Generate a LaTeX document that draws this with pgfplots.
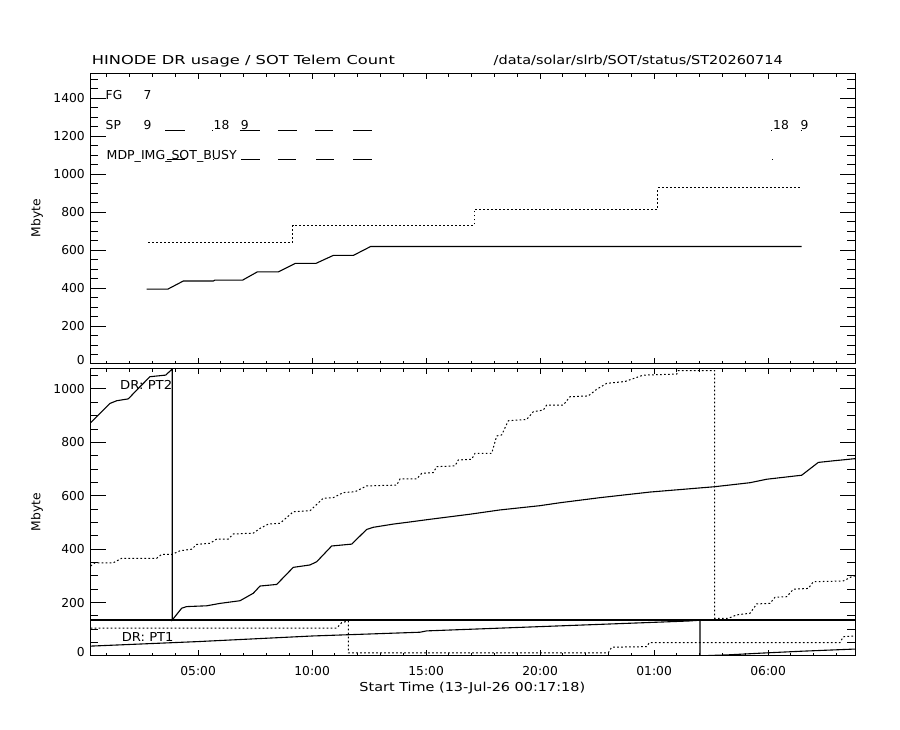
\documentclass[border=0pt]{standalone}
\usepackage{pgfplots}
\pgfplotsset{compat=1.18}
\usepackage{pgfplotstable}
\usepackage{graphicx}
\usepackage{fontspec}
\setmainfont{DejaVu Sans}
\newcommand{\fs}{\fontsize{12.3}{14}\selectfont}

% hours since 13-Jul-26 00:00
\pgfplotstableread{
x y
2.744 394
3.666 394
4.350 437
5.666 437
5.740 442
6.955 442
7.595 485
8.516 485
9.262 530
10.170 530
10.930 572
11.810 572
12.570 619
31.470 619
}\topsolid

\pgfplotstableread{
x y
2.814 641
9.148 641
9.148 731
17.113 731
17.113 815
25.156 815
25.156 927
31.440 927
}\topdot

\pgfplotstableread{
x y
3.547 1229
4.424 1229
nan nan
5.600 1229
5.660 1229
nan nan
6.836 1229
7.714 1229
nan nan
8.503 1229
9.336 1229
nan nan
10.126 1229
10.915 1229
nan nan
11.793 1229
12.626 1229
nan nan
30.130 1229
30.190 1229
nan nan
31.420 1229
31.480 1229
}\spseg

\pgfplotstableread{
x y
3.620 1078
4.424 1078
nan nan
5.640 1078
5.700 1078
nan nan
6.890 1078
7.714 1078
nan nan
8.503 1078
9.310 1078
nan nan
10.170 1078
10.940 1078
nan nan
11.793 1078
12.610 1078
nan nan
30.170 1078
30.230 1078
}\mdpseg

\pgfplotstableread{
x y
0.288 134.8
33.810 134.8
}\divider

\pgfplotstableread{
x y
0.288 874
0.696 909
1.135 946
1.429 956
1.937 963
2.376 1002
2.889 1046
3.578 1052
3.867 1075
3.867 135
4.279 179
4.499 185
5.376 188
5.959 197
6.837 207
7.420 235
7.714 262
8.446 268
9.174 332
9.907 341
10.200 353
10.858 412
11.735 419
12.393 474
12.683 482
13.560 494
14.292 502
15.170 512
16.925 531
18.240 547
19.995 563
20.872 574
22.626 593
24.819 614
27.656 634
29.205 649
29.937 662
31.472 677
32.200 725
32.858 731
33.810 739
}\ptwosolid

\pgfplotstableread{
x y
0.288 337
0.477 349
1.279 349
1.648 366
3.183 366
3.402 381
3.867 381
4.205 394
4.718 400
4.937 418
5.521 422
5.814 438
6.323 438
6.543 457
7.420 460
7.714 478
8.078 494
8.591 497
9.174 540
9.907 544
10.490 591
10.929 593
11.367 612
11.880 615
12.393 637
13.709 640
13.854 663
14.586 663
14.806 684
15.315 687
15.463 709
16.266 712
16.411 734
16.999 737
17.144 759
17.876 759
18.095 824
18.315 828
18.604 881
19.411 886
19.701 915
20.139 921
20.288 940
21.017 940
21.310 971
22.113 974
22.482 999
22.920 1021
23.723 1028
24.525 1052
25.990 1056
26.060 1069
27.656 1069
27.656 141
28.253 141
28.622 154
29.205 160
29.499 195
30.082 197
30.302 220
30.815 222
31.104 250
31.762 253
31.981 278
33.297 281
33.665 297
33.810 300
}\ptwodot

\pgfplotstableread{
x y
0.288 37
5.007 54
10.025 75
14.731 89
15.025 94
19.995 110
24.963 126
26.499 131
27.012 134
27.012 0
27.450 2
28.183 4
30.000 12
31.500 18
33.810 26
}\ponesolid

\pgfplotstableread{
x y
0.288 104
11.078 104
11.297 125
11.586 131
11.586 12
22.990 12
23.139 33
24.674 35
24.788 50
33.152 50
33.297 72
33.810 75
}\ponedot

\pgfplotsset{
  panel/.style={scale only axis, width=764.3pt, xmin=0.2883, xmax=33.81,
    axis line style={line width=1pt}, tick style={line width=1pt, black},
    tick align=inside, tick label style={font=\fs}},
  xpart/.style={xtick={5,10,15,20,25,30}, minor xtick={1,2,...,33},
    major tick length=6pt, minor tick length=3.3pt, ytick=\empty},
  ypart/.style={xtick=\empty, major tick length=15pt, minor tick length=7.7pt,
    yticklabel style={inner sep=0pt, xshift=-5.7pt},
    extra y ticks={0}, extra y tick labels={0},
    extra y tick style={yticklabel style={yshift=3.5pt}}},
  solidl/.style={line width=1.1pt, black},
  dotl/.style={line width=1pt, black, dash pattern=on 1.7pt off 2.3pt},
}

\begin{document}
\begin{tikzpicture}[font=\fs]
\path[use as bounding box] (0pt,0pt) rectangle (900pt,730pt);

% ---------- top panel ----------
\begin{axis}[panel, xpart, at={(90.7pt,366pt)}, height=290.7pt,
  ymin=0, ymax=1531, xticklabels={\mbox{},\mbox{},\mbox{},\mbox{},\mbox{},\mbox{}},
  unbounded coords=jump]
\addplot[solidl] table {\topsolid};
\addplot[dotl] table {\topdot};
\addplot[solidl] table {\spseg};
\addplot[solidl] table {\mdpseg};
\end{axis}
\begin{axis}[panel, ypart, at={(90.7pt,366pt)}, height=290.7pt,
  ymin=0, ymax=1531, ytick={200,400,...,1400}, minor ytick={50,100,...,1500},
  yticklabels={200,400,600,800,1000,1200,1400}]
\end{axis}

% ---------- bottom panel ----------
\begin{axis}[panel, xpart, at={(90.7pt,74pt)}, height=287.7pt,
  ymin=0, ymax=1077.5,
  xticklabels={05:00,10:00,15:00,20:00,01:00,06:00},
  xticklabel style={inner sep=0pt, yshift=-10.5pt}]
\addplot[solidl] table {\divider};
\addplot[solidl] table {\ptwosolid};
\addplot[dotl] table {\ptwodot};
\addplot[solidl] table {\ponesolid};
\addplot[dotl] table {\ponedot};
\end{axis}
\begin{axis}[panel, ypart, at={(90.7pt,74pt)}, height=287.7pt,
  ymin=0, ymax=1077.5, ytick={200,400,...,1000}, minor ytick={50,100,...,1050},
  yticklabels={200,400,600,800,1000}]
\end{axis}

% ---------- texts ----------
\tikzset{lab/.style={inner sep=0pt, anchor=base west}}
\node[lab] at (91.7pt,665pt) {\resizebox{303pt}{\height}{HINODE DR usage / SOT Telem Count}};
\node[lab] at (493.5pt,665pt) {\resizebox{289pt}{\height}{/data/solar/slrb/SOT/status/ST20260714}};
\node[lab] at (105.5pt,630pt) {FG};
\node[lab] at (143.5pt,630pt) {7};
\node[lab] at (105.5pt,600pt) {SP};
\node[lab] at (143.5pt,600pt) {9};
\node[lab] at (213.5pt,600pt) {18};
\node[lab] at (240.7pt,600pt) {9};
\node[lab] at (773pt,600pt) {18};
\node[lab] at (800.5pt,600pt) {9};
\node[lab] at (106.5pt,570pt) {\resizebox{130pt}{\height}{MDP\_IMG\_SOT\_BUSY}};
\node[lab] at (120pt,340pt) {\resizebox{52pt}{\height}{DR:\ PT2}};
\node[lab] at (121.7pt,88.3pt) {\resizebox{51.6pt}{\height}{DR:\ PT1}};
\node[inner sep=0pt, rotate=90] at (37pt,512pt) {Mbyte};
\node[inner sep=0pt, rotate=90] at (37pt,218pt) {Mbyte};
\node[inner sep=0pt, anchor=base] at (472.3pt,38.5pt) {\resizebox{225.7pt}{\height}{Start Time (13-Jul-26 00:17:18)}};
\end{tikzpicture}
\end{document}
